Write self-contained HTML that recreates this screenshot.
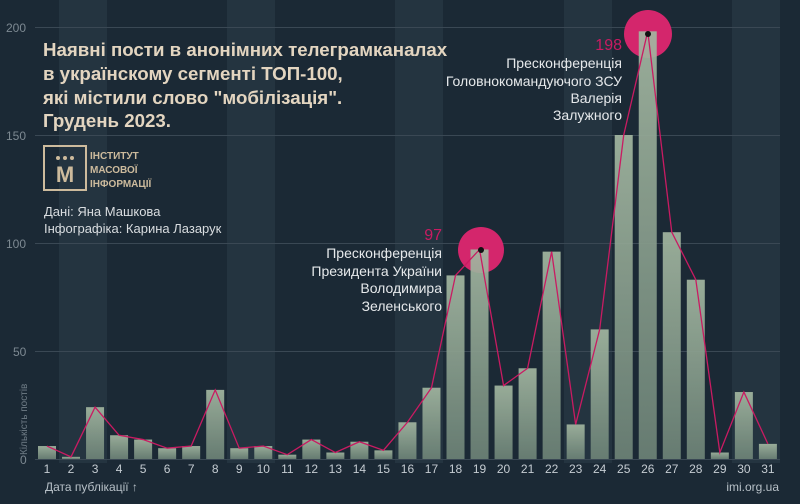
<!DOCTYPE html>
<html><head><meta charset="utf-8"><style>
html,body{margin:0;padding:0;background:#1b2935;}
svg{display:block;font-family:"Liberation Sans",sans-serif;}
</style></head><body>
<svg width="800" height="504" viewBox="0 0 800 504" xmlns="http://www.w3.org/2000/svg">
<defs>
<linearGradient id="bg" x1="0" y1="0" x2="0" y2="1">
<stop offset="0" stop-color="#a3b7a1"/><stop offset="1" stop-color="#6d8377"/>
</linearGradient>
</defs>
<rect width="800" height="504" fill="#1b2935"/>
<g fill="#243440">
<rect x="59" y="0" width="48" height="463"/>
<rect x="227" y="0" width="48" height="463"/>
<rect x="395" y="0" width="48" height="463"/>
<rect x="564" y="0" width="48" height="463"/>
<rect x="732" y="0" width="48" height="463"/>
</g>
<g stroke="#3a4854" stroke-width="1">
<line x1="35" y1="27.5" x2="780" y2="27.5"/>
<line x1="35" y1="135.5" x2="780" y2="135.5"/>
<line x1="35" y1="243.5" x2="780" y2="243.5"/>
<line x1="35" y1="351.5" x2="780" y2="351.5"/>
<line x1="35" y1="459.5" x2="780" y2="459.5"/>
</g>
<g fill="#7d8992" font-size="12">
<text x="6" y="32">200</text><text x="6" y="140">150</text><text x="6" y="248">100</text><text x="13" y="356">50</text><text x="20" y="464">0</text>
</g>
<text transform="translate(27,455) rotate(-90)" fill="#6f7c86" font-size="10">Кількість постів</text>
<circle cx="481" cy="250" r="23" fill="#d4266c"/>
<circle cx="648" cy="34" r="24" fill="#d4266c"/>
<g id="bars" fill="url(#bg)" opacity="0.92"></g>
<polyline id="ln" fill="none" stroke="#c91b62" stroke-width="1.3"/>
<circle cx="481" cy="250" r="3" fill="#111"/>
<circle cx="648" cy="34" r="3" fill="#111"/>
<g id="xl" fill="#c5ccd2" font-size="12" text-anchor="middle"></g>
<text x="45" y="491" fill="#b7c0c7" font-size="12">Дата публікації ↑</text>
<text x="779" y="491" fill="#b7c0c7" font-size="12" text-anchor="end">imi.org.ua</text>
<g fill="#e3d5c0" font-size="18.7" font-weight="bold">
<text x="43" y="56">Наявні пости в анонімних телеграмканалах</text>
<text x="43" y="80">в українскому сегменті ТОП-100,</text>
<text x="43" y="104">які містили слово "мобілізація".</text>
<text x="43" y="127">Грудень 2023.</text>
</g>
<rect x="44" y="146" width="42" height="44" fill="none" stroke="#cdbb9d" stroke-width="2"/>
<text x="65" y="182" fill="#cdbb9d" font-size="22" font-weight="bold" text-anchor="middle">М</text>
<g fill="#cdbb9d"><circle cx="58" cy="158" r="2"/><circle cx="65" cy="158" r="2"/><circle cx="72" cy="158" r="2"/></g>
<g fill="#cdbb9d" font-size="10" font-weight="bold"><text x="90" y="159">ІНСТИТУТ</text><text x="90" y="173">МАСОВОЇ</text><text x="90" y="187">ІНФОРМАЦІЇ</text></g>
<g fill="#d9dde0" font-size="13"><text x="44" y="216">Дані: Яна Машкова</text><text x="44" y="233">Інфографіка: Карина Лазарук</text></g>
<g fill="#e6e9eb" font-size="14" text-anchor="end">
<text x="442" y="240" fill="#c91b62" font-size="16">97</text>
<text x="442" y="258">Пресконференція</text>
<text x="442" y="276">Президента України</text>
<text x="442" y="293">Володимира</text>
<text x="442" y="311">Зеленського</text>
<text x="622" y="50" fill="#c91b62" font-size="16">198</text>
<text x="622" y="68">Пресконференція</text>
<text x="622" y="86">Головнокомандуючого ЗСУ</text>
<text x="622" y="103">Валерія</text>
<text x="622" y="120">Залужного</text>
</g>
<script>
var v=[6,1,24,11,9,5,6,32,5,6,2,9,3,8,4,17,33,85,97,34,42,96,16,60,150,198,105,83,3,31,7];
var b=document.getElementById('bars'),x=document.getElementById('xl'),p=[];
var ns='http://www.w3.org/2000/svg';
for(var i=0;i<31;i++){var cx=47+i*24.03,h=v[i]*2.16,y=459-h;
var r=document.createElementNS(ns,'rect');r.setAttribute('x',cx-9);r.setAttribute('y',y);r.setAttribute('width',18);r.setAttribute('height',h);b.appendChild(r);
var t=document.createElementNS(ns,'text');t.setAttribute('x',cx);t.setAttribute('y',473);t.textContent=i+1;x.appendChild(t);
p.push(cx+','+y);}
document.getElementById('ln').setAttribute('points',p.join(' '));
</script>
</svg>
</body></html>
